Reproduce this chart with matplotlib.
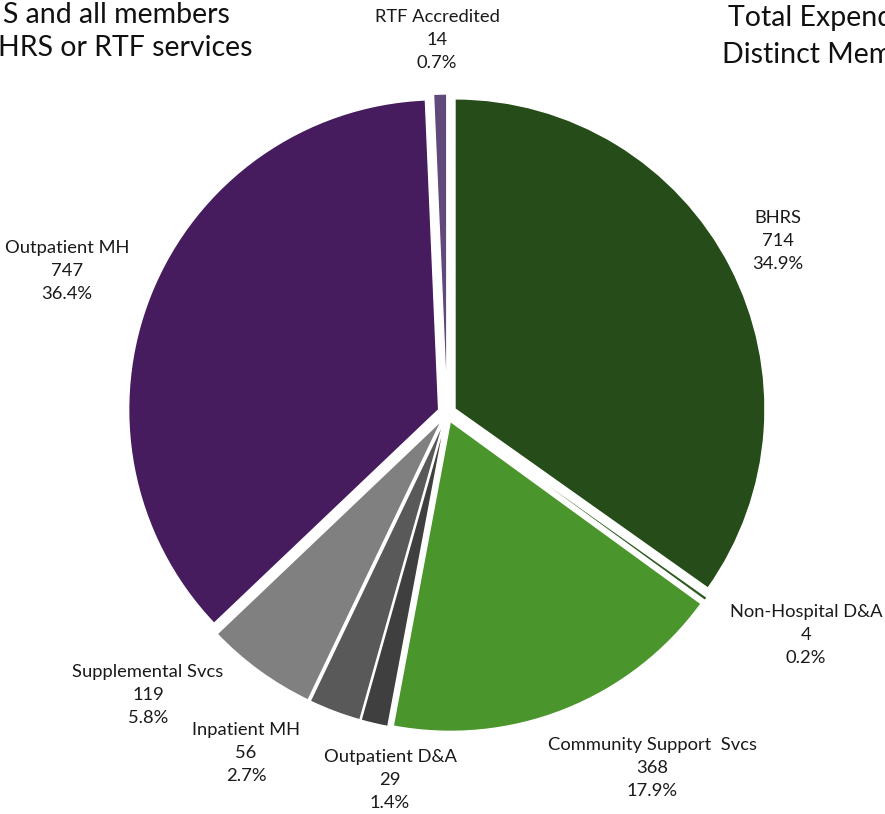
import matplotlib
matplotlib.use("Agg")
import matplotlib.pyplot as plt

# Distinct members by service category (clockwise from 12 o'clock)
categories = ["BHRS", "Non-Hospital D&A", "Community Support  Svcs", "Outpatient D&A",
              "Inpatient MH", "Supplemental Svcs", "Outpatient MH", "RTF Accredited"]
members = [714, 4, 368, 29, 56, 119, 747, 14]
percent_labels = ["34.9%", "0.2%", "17.9%", "1.4%", "2.7%", "5.8%", "36.4%", "0.7%"]
colors = ["#264d19", "#2f5a20", "#4a962c", "#3f3f3f", "#595959", "#808080", "#461c5e", "#5f4a7b"]

W, H = 885, 814
plt.rcParams["font.family"] = ["Lato", "DejaVu Sans"]

fig = plt.figure(figsize=(W / 100, H / 100), dpi=100)
ax = fig.add_axes([0, 0, 1, 1])

cx, cy, R = 447, H - 413, 310
ax.pie(members, colors=colors, startangle=90, counterclock=False,
       explode=[9] * len(members), center=(cx, cy), radius=R,
       wedgeprops=dict(linewidth=1.0, edgecolor="white"))
ax.set_xlim(0, W)
ax.set_ylim(0, H)
ax.set_aspect("equal")
ax.axis("off")

# label centres (x, y measured from the top)
label_pos = [(778, 241), (806, 635), (652, 768), (390, 780),
             (246, 753), (148, 695), (67, 271), (437, 40)]
for name, n, pct, (lx, ly) in zip(categories, members, percent_labels, label_pos):
    ax.text(lx, H - ly, f"{name}\n{n}\n{pct}", ha="center", va="center",
            fontsize=13.2, color="#1a1a1a", linespacing=1.52)

# chart titles
ax.text(230, H - 15, "S and all members", ha="right", va="center", fontsize=20.5, color="#111111")
ax.text(253, H - 48, "HRS or RTF services", ha="right", va="center", fontsize=20.5, color="#111111")
ax.text(728, H - 18, "Total Expenditures", ha="left", va="center", fontsize=20.5, color="#111111")
ax.text(722, H - 55, "Distinct Members", ha="left", va="center", fontsize=20.5, color="#111111")

fig.savefig("out.png", dpi=100)
